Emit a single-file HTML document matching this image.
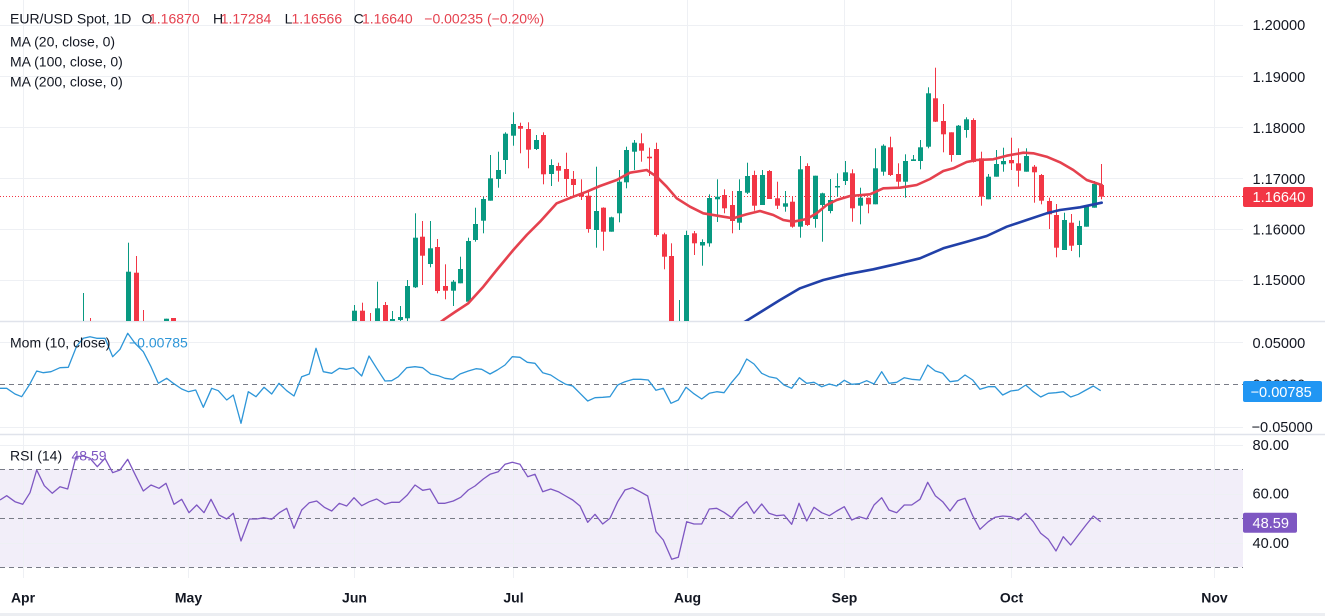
<!DOCTYPE html>
<html>
<head>
<meta charset="utf-8">
<style>
  html,body{margin:0;padding:0;background:#fff;}
  body{width:1325px;height:616px;overflow:hidden;}
  svg{display:block;font-family:"Liberation Sans",Arial,sans-serif;}
</style>
</head>
<body>
<svg id="chart" xmlns="http://www.w3.org/2000/svg" width="1325" height="616" viewBox="0 0 1325 616">
  <defs>
    <clipPath id="mainClip"><rect x="0" y="0" width="1243" height="321"/></clipPath>
    <clipPath id="momClip"><rect x="0" y="322" width="1243" height="112"/></clipPath>
    <clipPath id="rsiClip"><rect x="0" y="435" width="1243" height="143"/></clipPath>
  </defs>
  <rect x="0" y="0" width="1325" height="616" fill="#ffffff"/>

  <!-- RSI band -->
  <rect x="0" y="469.3" width="1243" height="98" fill="#f2eef9"/>

  <!-- vertical grid -->
  <g stroke="#eef0f4" stroke-width="1">
    <line x1="23.5" y1="0" x2="23.5" y2="578"/>
    <line x1="188.5" y1="0" x2="188.5" y2="578"/>
    <line x1="354.5" y1="0" x2="354.5" y2="578"/>
    <line x1="513.5" y1="0" x2="513.5" y2="578"/>
    <line x1="687.5" y1="0" x2="687.5" y2="578"/>
    <line x1="844.5" y1="0" x2="844.5" y2="578"/>
    <line x1="1011.5" y1="0" x2="1011.5" y2="578"/>
    <line x1="1214.5" y1="0" x2="1214.5" y2="578"/>
  </g>
  <!-- horizontal grid -->
  <g stroke="#eef0f4" stroke-width="1">
    <line x1="0" y1="25.5" x2="1243" y2="25.5"/>
    <line x1="0" y1="76.5" x2="1243" y2="76.5"/>
    <line x1="0" y1="127.5" x2="1243" y2="127.5"/>
    <line x1="0" y1="178.5" x2="1243" y2="178.5"/>
    <line x1="0" y1="229.5" x2="1243" y2="229.5"/>
    <line x1="0" y1="280.5" x2="1243" y2="280.5"/>
    <line x1="0" y1="342.5" x2="1243" y2="342.5"/>
    <line x1="0" y1="427.5" x2="1243" y2="427.5"/>
    <line x1="0" y1="445.5" x2="1243" y2="445.5"/>
    <line x1="0" y1="494.5" x2="1243" y2="494.5"/>
    <line x1="0" y1="543.5" x2="1243" y2="543.5"/>
  </g>

  <!-- panel separators -->
  <line x1="0" y1="321.5" x2="1325" y2="321.5" stroke="#e0e3eb" stroke-width="1.5"/>
  <line x1="0" y1="434.5" x2="1325" y2="434.5" stroke="#e0e3eb" stroke-width="1.5"/>
  <rect x="0" y="613" width="1325" height="3" fill="#eceef2"/>

  <!-- dashed levels -->
  <g stroke="#787b86" stroke-width="1" stroke-dasharray="5,4" fill="none">
    <line x1="0" y1="384.5" x2="1243" y2="384.5"/>
    <line x1="0" y1="469.5" x2="1243" y2="469.5"/>
    <line x1="0" y1="518.5" x2="1243" y2="518.5"/>
    <line x1="0" y1="567.5" x2="1243" y2="567.5"/>
  </g>

  <!-- main panel -->
  <g clip-path="url(#mainClip)">
    <line x1="0" y1="196.5" x2="1243" y2="196.5" stroke="#f23645" stroke-width="1" stroke-dasharray="1,2"/>
    <g id="candles"></g>
    <polyline fill="none" stroke="#e5414e" stroke-width="2.6" stroke-linejoin="round" stroke-linecap="round"
      points="430,330 443.3,320 455,312 468.3,303.3 483.3,286.7 496.7,270 513.3,250 526.7,235 540,221.7 556.7,203.3 573.3,196.7 586.7,191.7 600,186 616.7,180 630,172.7 646.7,170 656.7,176.7 666.7,186.7 676.7,198.3 690,206.7 703.3,213.3 723.3,216.7 733.3,218.3 746.7,214.3 760,211 773.3,215 783.3,220 793.3,221.7 806.7,219 816.7,213.3 826.7,205 836.7,200 850,196 870,194.3 883.3,188.3 900,187.7 916.7,185 930,179 943.3,171 953.3,168.3 966.7,162 976.7,160 993.3,159.3 1006.7,155.7 1023.3,152.7 1033.3,153.3 1046.7,156.7 1060,162.3 1073.3,170 1086.7,180 1101.7,185"/>
    <polyline fill="none" stroke="#2140a8" stroke-width="2.6" stroke-linejoin="round" stroke-linecap="round"
      points="738,325 745,321.7 780,300 800,288.3 823.3,280 846.7,274.3 873.3,269.3 896.7,264 920,258.3 943.3,248.3 966.7,241.7 986.7,236 1006.7,226.7 1026.7,220 1046.7,213.3 1060,210 1080,207.3 1101.7,202.7"/>
  </g>

  <!-- momentum -->
  <g clip-path="url(#momClip)">
    <polyline fill="none" stroke="#2e96d8" stroke-width="1.3" stroke-linejoin="round"
      points="0,388.3 6.7,388.3 15,394 21.7,396.7 29.3,385 36.7,371 43.3,372.7 51,371.7 60,367.7 68.3,367.3 76.7,346 83.3,338.3 90,336.7 96.7,338.3 105,338.3 112.7,356.7 120,349.3 127.7,333.3 135,343.3 143.3,351.7 151,366.7 158.3,383.3 166.7,378.3 173.3,383.3 181.7,389 188.3,391.7 195.7,390 203.3,407.3 211.7,388.3 218.3,390.7 226.7,400 233.3,395 241,423.3 248.3,391.7 256,396.7 264,387.3 271.7,394 279,383.3 286.7,390.7 294,396 301.7,376.7 309.3,374 316,348.3 323.3,371.7 331.7,373.3 339.3,368.3 346.7,369.3 353.3,367.7 361.7,376 369,356 376.7,368.3 385,381 391.7,380.7 398.3,376.7 406.7,367.7 415,366.7 422.7,367.7 430.7,374 438.3,375.7 445,378.3 452.7,379.3 460,374 468.3,371 476,368.7 481.7,369.3 490,374 497.3,370 505,365 512.3,356.7 520,357.3 527.3,362.3 535,363.3 542.7,372.7 550.7,375 558.3,380 565.7,384.3 572.7,386 580,393.3 587.7,401 595,397.7 602.7,397.3 610,396.7 617.7,385 625,381.7 633.3,379.3 640.7,379.3 648.3,380 656,390.3 663.3,388.3 671,403.3 678.3,400 686,387.3 693.3,393.3 701.7,399 709.3,393.3 716.7,391.7 724,392.7 731.7,382.3 739.3,373.3 746.7,359 754,364 761.7,373.3 769,376.7 776.7,378.3 784,385 791.7,388.3 799.3,377.7 806.7,383.3 814,382.3 821.7,386.7 829.3,384 836.7,386 844.3,380.3 851.7,384.3 859.3,383.7 866.7,380.7 874,384 881.7,371.7 889,383.3 896.7,382.3 904.3,377.7 911.7,379.3 920,380 927.7,365 935.3,371 942.7,373.3 950,381.7 957.7,380.7 965,375 972.7,380 980,389.3 988.3,386.7 995,386.7 1002.7,395 1010.7,391 1018.3,390 1025.7,385 1033.3,391.7 1040.7,397 1048.3,393.3 1056,392.7 1063.3,391.7 1070.7,397 1078.3,394.3 1086,390 1093.3,386 1100.7,390.7"/>
  </g>

  <!-- RSI -->
  <g clip-path="url(#rsiClip)">
    <polyline fill="none" stroke="#7e57c2" stroke-width="1.3" stroke-linejoin="round"
      points="0,500 6.7,495.7 15,501.7 22.7,504.3 30,492.7 36.7,470 44.3,485.7 52.3,493.3 60,486.7 67.7,489 76,456.7 83.3,456 90,458.3 97.3,466.7 105,458.3 112.7,472.7 120,470 127.7,459.3 135,474.3 143.3,491 151,485 159,488.3 166,483.3 174,504.3 181.7,499.3 189,512.7 196.7,505 204,512.7 211,499.3 219,515 226.7,519 233.3,513.3 241,541 249.3,519 256.7,519 264,517.7 271.7,519.3 279.3,512.7 286.7,508.3 294,528.3 301.7,510 309.3,502.7 316.7,501 324.3,507.3 331.7,511 339.3,503.3 346.7,506 354,497.7 361.7,505.7 369.3,501.7 376.7,499 385,504.3 391.7,502.3 399.3,502.3 407.3,495 415,485 422.7,490.3 430,489 438.3,503.3 445,503.3 453.3,501 460.7,497.3 468.3,490 475,486 483.3,479 490,474.3 498.3,471.7 505,464.3 512.3,462.3 520,464.3 527.7,476.7 535,474.3 542.7,491.7 550.7,489 558.3,491.7 565.7,496 572.7,500 580,506 587.7,522.3 595,514.3 602.7,524 610,518.3 617.7,501.7 625,490 632.3,487.7 640,491.7 647.7,496 656,531.7 663.3,540 671.7,559.3 678.3,557.3 686.7,521.7 694,524 701.7,524 709.3,509 716.7,508.3 724,512.3 731.7,517.7 739.3,507.7 746.7,501.7 754,513.3 761.7,504 769,513.3 776.7,515.7 784,515 791.7,524.3 799,503.3 806.7,521 814,507.3 821.7,512.7 829.3,515.7 836.7,511 844.3,506.7 851.7,520 859.3,516.7 866.7,519 874,505 881.7,497.7 889,510 896.7,512.7 904.3,505 911.7,505 920,499.3 927.7,482.3 935.3,495.7 942.7,501.7 950,511 957.7,500.7 965,498.3 972.7,515.7 980,529.3 988.3,521.7 995,517.3 1002.7,516 1010.7,516.7 1018.3,520 1025.7,513.3 1033.3,521.7 1040.7,533.3 1048.3,539.3 1056,551 1063.3,536.7 1070.7,545 1078.3,535 1086,525 1093.3,516 1100.7,521.7"/>
  </g>

  <!-- legends -->
  <g font-size="14" fill="#131722">
    <text x="10" y="23.3">EUR/USD Spot, 1D</text>
    <text x="141.5" y="23.3">O</text><text x="149" y="23.3" fill="#e5424f">1.16870</text>
    <text x="213" y="23.3">H</text><text x="220.7" y="23.3" fill="#e5424f">1.17284</text>
    <text x="284.6" y="23.3">L</text><text x="291.5" y="23.3" fill="#e5424f">1.16566</text>
    <text x="353.6" y="23.3">C</text><text x="362" y="23.3" fill="#e5424f">1.16640</text>
    <text x="424.3" y="23.3" fill="#e5424f">−0.00235 (−0.20%)</text>
    <text x="10" y="46.7">MA (20, close, 0)</text>
    <text x="10" y="66.7">MA (100, close, 0)</text>
    <text x="10" y="86.7">MA (200, close, 0)</text>
    <text x="10" y="347.3">Mom (10, close)</text>
    <text x="129" y="347.3" fill="#2e96d8">−0.00785</text>
    <text x="10" y="460.7">RSI (14)</text>
    <text x="71.5" y="460.7" fill="#7e57c2">48.59</text>
  </g>

  <!-- right axis labels -->
  <g font-size="14.6" fill="#131722">
    <text x="1252.5" y="30.2">1.20000</text>
    <text x="1252.5" y="81.9">1.19000</text>
    <text x="1252.5" y="132.9">1.18000</text>
    <text x="1252.5" y="183.9">1.17000</text>
    <text x="1252.5" y="234.5">1.16000</text>
    <text x="1252.5" y="285.2">1.15000</text>
    <text x="1252.5" y="347.9">0.05000</text>
    <text x="1252.5" y="389.5">0.00000</text>
    <text x="1251.5" y="431.9">−0.05000</text>
    <text x="1252.5" y="450.2">80.00</text>
    <text x="1252.5" y="498.5">60.00</text>
    <text x="1252.5" y="547.9">40.00</text>
  </g>

  <!-- value boxes -->
  <rect x="1243" y="187" width="70" height="20" rx="2" fill="#f23645"/>
  <text x="1252.5" y="202.2" font-size="14.6" fill="#ffffff">1.16640</text>
  <rect x="1243" y="381" width="79" height="21" rx="2" fill="#2196f3"/>
  <text x="1250.5" y="396.9" font-size="14.6" fill="#ffffff">−0.00785</text>
  <rect x="1243" y="512.7" width="54" height="20" rx="2" fill="#7e57c2"/>
  <text x="1252.5" y="527.9" font-size="14.6" fill="#ffffff">48.59</text>

  <!-- time axis -->
  <g font-size="14" font-weight="bold" fill="#131722" text-anchor="middle">
    <text x="23" y="602.5">Apr</text>
    <text x="188.5" y="602.5">May</text>
    <text x="354.5" y="602.5">Jun</text>
    <text x="513.5" y="602.5">Jul</text>
    <text x="687.5" y="602.5">Aug</text>
    <text x="844.5" y="602.5">Sep</text>
    <text x="1011.5" y="602.5">Oct</text>
    <text x="1214.5" y="602.5">Nov</text>
  </g>
</svg>
<script>
(function(){
  var data = [
    [8,1,325,330,293,330],[9,0,325,330,318,330],[14,1,271.7,330,242.7,330],[15,0,272.7,330,256,330],
    [16,0,325,330,310,330],[19,1,318.7,330,318.7,330],[20,0,318,330,318,330],
    [44,1,310.7,330,305,330],[45,0,310.7,330,302.7,330],[46,0,325,330,313,330],[47,1,308.3,330,281.7,330],
    [48,0,305,330,302,330],[49,1,319,321,311,323],[50,1,317,320,306,321],[51,1,286,318.3,280,321],
    [52,1,237.7,287.3,213.3,288],[53,0,236.7,255.7,221,285],[54,1,248.3,264,221,267.3],[55,0,247,291,239,293.3],
    [56,0,286,290.7,264.3,299.3],[57,1,281.7,290.7,280,306],[58,1,269,283.3,256.7,283.3],[59,1,241,301.7,237.7,303],
    [60,1,224,240,207.7,241.7],[61,1,199,220.7,196.7,233.3],[62,1,178.3,200.7,155,200.7],[63,1,170,179,151.7,187.7],
    [64,1,133.7,160,132.3,174],[65,1,124,135.7,112.3,145.7],[66,0,126,128.7,122.7,153.3],[67,0,129,149.7,122.3,168.3],
    [68,1,140,149,135,150],[69,0,135,174.3,132.3,184.3],[70,1,165,174,159.3,186],[71,0,166,170.7,162.7,181.7],
    [72,0,169,179,152.7,196.7],[73,0,179,185,171,195.7],[74,0,193.3,196.7,179.3,200],[75,0,195.7,229,190,232.7],
    [76,1,211,230,166.7,247.7],[77,0,207.7,231.7,207.3,250.7],[78,1,217.3,231.7,216.7,231.7],[79,1,181.7,213.3,170,222.3],
    [80,1,150,182.3,146.7,188.3],[81,1,142.7,151.7,140,170],[82,0,143.3,150.7,133.3,161.7],[83,0,156.7,158.3,147.7,176],
    [84,0,149,235,142.7,236.7],[85,0,234.3,256.7,232.7,269.3],[86,0,256,330,243.3,330],[87,1,325,330,300,330],
    [88,1,235,330,230.7,330],[89,0,233.3,243.3,231,255],[90,1,242,245.5,239.3,265.7],[91,1,198,243.3,194.3,246.7],
    [92,1,196.7,199.3,179.3,222],[93,0,195,208.3,189.3,213.3],[94,0,205,221,191,233.3],[95,1,191,222.7,179.3,230],
    [96,1,176,192.7,162.7,194],[97,0,175,205.7,170.7,210.7],[98,1,175,205,170,205],[99,0,171,199,170,199],
    [100,0,198.3,205.7,181.7,209],[101,1,203.3,206.7,191,211.7],[102,0,201.7,226.7,196.7,227.7],[103,1,169.3,226.7,156,237.7],
    [104,0,166,225,163.3,226],[105,1,175.7,219,175.7,227.7],[106,1,193.3,205,192.7,241.7],[107,1,200,211,179,213.3],
    [108,1,186,187.5,173.3,196.7],[109,1,172.3,181,161,185],[110,0,173.3,208.3,169.3,221.7],[111,1,197.7,205.7,187.7,224.3],
    [112,0,197.7,204.3,197.7,213.3],[113,1,168.3,204.3,148.3,204.3],[114,1,145.7,171.7,144.3,175.7],[115,0,147.3,175,136.7,176],
    [116,0,174,181.7,163.3,187.3],[117,1,161,181.7,154.3,197.7],[118,1,159.3,161,155,161],[119,1,147.3,161,140,169.3],
    [120,1,93.3,146.7,87.3,148.3],[121,0,98.3,121.7,67.7,122],[122,0,121,134.3,104,152.3],[123,0,132.3,155,132.3,161.7],
    [124,1,125.7,155,125,155],[125,1,119.3,130,117.3,137.7],[126,0,120,162,118.3,162.5],[127,0,158.3,196.7,151.7,205.7],
    [128,1,176.7,199.3,174,199.3],[129,1,164,176.7,150,176.7],[130,1,161,164.3,147.7,171.7],[131,0,160,163.3,137.7,170],
    [132,0,163.3,170.7,148.3,186.7],[133,1,156,171.7,148.3,171.7],[134,0,166.7,172.3,165,202.7],[135,0,175,200.7,174,204.3],
    [136,0,201,214.3,197.7,229],[137,0,215,247.7,204,257.3],[138,1,220,250,212.7,250],[139,0,222.7,245.7,214,251],
    [140,1,226,245,220.7,257.3],[141,1,206,226.7,205,226.7],[142,1,184,207.7,181,207.7],[143,0,185,196.7,164,199.3]
  ];
  var NS="http://www.w3.org/2000/svg";
  var g=document.getElementById("candles");
  for(var k=0;k<data.length;k++){
    var d=data[k];
    var cx=23+d[0]*7.545;
    var col=d[1]?"#089981":"#f23645";
    var bx=Math.round(cx-2.5);
    var w=document.createElementNS(NS,"rect");
    w.setAttribute("x",bx+2);w.setAttribute("y",d[4]);
    w.setAttribute("width",1);w.setAttribute("height",Math.max(1,d[5]-d[4]));
    w.setAttribute("fill",col);g.appendChild(w);
    var b=document.createElementNS(NS,"rect");
    b.setAttribute("x",bx);b.setAttribute("y",d[2]);
    b.setAttribute("width",5);b.setAttribute("height",Math.max(1.2,d[3]-d[2]));
    b.setAttribute("fill",col);g.appendChild(b);
  }
})();
</script>
</body>
</html>
